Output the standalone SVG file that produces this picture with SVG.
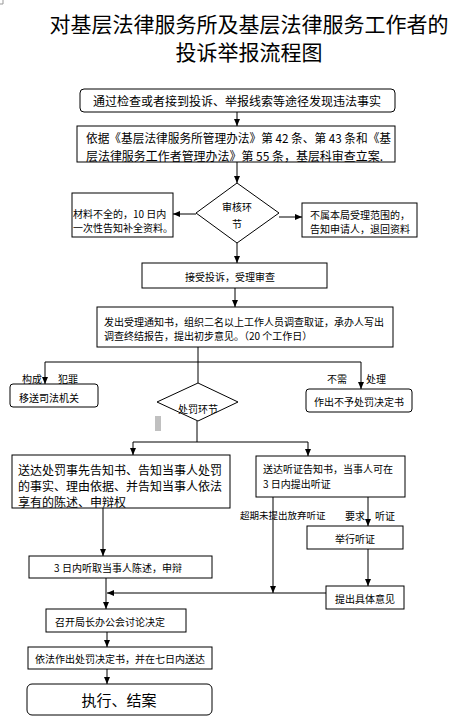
<svg xmlns="http://www.w3.org/2000/svg" width="472" height="718" viewBox="0 0 472 718">
<style>
text{font-family:"Noto Sans CJK SC","Liberation Sans",sans-serif;fill:#000;dominant-baseline:central}
.t{font-size:21px}
.m{font-size:12px}
.s{font-size:10px}
.b{fill:#fff;stroke:#000;stroke-width:1}
.l{fill:none;stroke:#000;stroke-width:1}
.a{fill:none;stroke:#000;stroke-width:1;marker-end:url(#ah)}
</style>
<defs>
<marker id="ah" markerUnits="userSpaceOnUse" markerWidth="8" markerHeight="8" refX="7" refY="4" orient="auto">
<path d="M0,1 L7,4 L0,7 Z" fill="#000"/>
</marker>
</defs>
<rect width="472" height="718" fill="#fff"/>
<path d="M3,0 V4 H0" fill="none" stroke="#999" stroke-width="1"/>
<g id="title">
<text class="t" x="249" y="23" text-anchor="middle">对基层法律服务所及基层法律服务工作者的</text>
<text class="t" x="249" y="51" text-anchor="middle">投诉举报流程图</text>
</g>
<g id="connectors">
<line class="a" x1="237" y1="112" x2="237" y2="126"/>
<line class="a" x1="237" y1="162" x2="237" y2="183"/>
<line class="a" x1="196" y1="214" x2="173" y2="214"/>
<line class="a" x1="279" y1="217" x2="302" y2="217"/>
<line class="a" x1="237" y1="243" x2="237" y2="263"/>
<line class="a" x1="235" y1="288" x2="235" y2="307"/>
<line class="l" x1="198" y1="347" x2="198" y2="383"/>
<line class="l" x1="45" y1="362" x2="361" y2="362"/>
<line class="a" x1="45" y1="362" x2="45" y2="384"/>
<line class="a" x1="361" y1="362" x2="361" y2="389"/>
<line class="l" x1="197" y1="421" x2="197" y2="442"/>
<line class="l" x1="133" y1="442" x2="308" y2="442"/>
<line class="a" x1="133" y1="442" x2="133" y2="455"/>
<line class="a" x1="308" y1="442" x2="308" y2="456"/>
<line class="a" x1="273" y1="497" x2="273" y2="593"/>
<line class="a" x1="368" y1="497" x2="368" y2="526"/>
<line class="a" x1="368" y1="549" x2="368" y2="586"/>
<line class="a" x1="326" y1="593" x2="107" y2="593"/>
<line class="a" x1="103" y1="508" x2="103" y2="556"/>
<line class="a" x1="106" y1="578" x2="106" y2="609"/>
<line class="a" x1="107" y1="632" x2="107" y2="647"/>
<line class="a" x1="107" y1="669" x2="107" y2="684"/>
</g>
<g id="labels">
<text class="s" x="22" y="378">构成</text>
<text class="s" x="58" y="378">犯罪</text>
<text class="s" x="327" y="378">不需</text>
<text class="s" x="366" y="378">处理</text>
<text class="s" x="240" y="515" style="font-size:9.5px">超期未提出放弃听证</text>
<text class="s" x="345" y="515">要求</text>
<text class="s" x="375" y="515">听证</text>
</g>
<g id="n1">
<rect class="b" x="80" y="89" width="315" height="23" rx="4"/>
<text class="m" x="237" y="100" text-anchor="middle">通过检查或者接到投诉、举报线索等途径发现违法事实</text>
</g>
<g id="n2">
<rect class="b" x="77" y="126" width="318" height="36"/>
<text class="m" x="86" y="137" textLength="305" lengthAdjust="spacingAndGlyphs">依据《基层法律服务所管理办法》第 42 条、第 43 条和《基</text>
<text class="m" x="86" y="155" textLength="297" lengthAdjust="spacingAndGlyphs">层法律服务工作者管理办法》第 55 条，基层科审查立案.</text>
</g>
<g id="d1">
<polygon class="b" points="237,183 279,213 237,243 196,213"/>
<text class="s" x="237" y="206" text-anchor="middle">审核环</text>
<text class="s" x="237" y="223" text-anchor="middle">节</text>
</g>
<g id="n3">
<rect class="b" x="72" y="193" width="101" height="44"/>
<text class="s" x="73" y="213">材料不全的，10 日内</text>
<text class="s" x="73" y="227">一次性告知补全资料。</text>
</g>
<g id="n4">
<rect class="b" x="302" y="203" width="115" height="34"/>
<text class="s" x="310" y="214">不属本局受理范围的，</text>
<text class="s" x="310" y="228">告知申请人，退回资料</text>
</g>
<g id="n5">
<rect class="b" x="142" y="263" width="185" height="25"/>
<text class="s" x="230" y="276" text-anchor="middle">接受投诉，受理审查</text>
</g>
<g id="n6">
<rect class="b" x="97" y="307" width="296" height="40"/>
<text class="s" x="104" y="321">发出受理通知书，组织二名以上工作人员调查取证，承办人写出</text>
<text class="s" x="104" y="335">调查终结报告，提出初步意见。（20 个工作日）</text>
</g>
<g id="n7">
<rect class="b" x="10" y="384" width="88" height="23" rx="3"/>
<text class="s" x="19" y="397">移送司法机关</text>
</g>
<g id="n8">
<rect class="b" x="306" y="389" width="106" height="23" rx="3"/>
<text class="s" x="314" y="401">作出不予处罚决定书</text>
</g>
<g id="d2">
<polygon class="b" points="198,383 238,402 198,421 157,402"/>
<text class="s" x="198" y="408" text-anchor="middle">处罚环节</text>
</g>
<rect x="155" y="416" width="6" height="15" fill="#c0c0c0"/>
<g id="n9">
<rect class="b" x="12" y="455" width="218" height="53"/>
<text class="m" x="18" y="469">送达处罚事先告知书、告知当事人处罚</text>
<text class="m" x="18" y="485">的事实、理由依据、并告知当事人依法</text>
<text class="m" x="18" y="501">享有的陈述、申辩权</text>
</g>
<g id="n10">
<rect class="b" x="256" y="456" width="149" height="41"/>
<text class="s" x="263" y="468">送达听证告知书，当事人可在</text>
<text class="s" x="263" y="483">3 日内提出听证</text>
</g>
<g id="n11">
<rect class="b" x="307" y="526" width="96" height="23"/>
<text class="s" x="355" y="538" text-anchor="middle">举行听证</text>
</g>
<g id="n12">
<rect class="b" x="326" y="586" width="78" height="23"/>
<text class="s" x="335" y="598">提出具体意见</text>
</g>
<g id="n13">
<rect class="b" x="29" y="556" width="183" height="22"/>
<text class="s" x="118" y="567" text-anchor="middle">3 日内听取当事人陈述，申辩</text>
</g>
<g id="n14">
<rect class="b" x="46" y="609" width="140" height="23"/>
<text class="s" x="55" y="621">召开局长办公会讨论决定</text>
</g>
<g id="n15">
<rect class="b" x="28" y="647" width="184" height="22"/>
<text class="s" x="120" y="658" text-anchor="middle">依法作出处罚决定书，并在七日内送达</text>
</g>
<g id="n16">
<rect class="b" x="27" y="684" width="185" height="31" rx="5"/>
<text x="119" y="699" text-anchor="middle" style="font-size:15px">执行、结案</text>
</g>
</svg>
